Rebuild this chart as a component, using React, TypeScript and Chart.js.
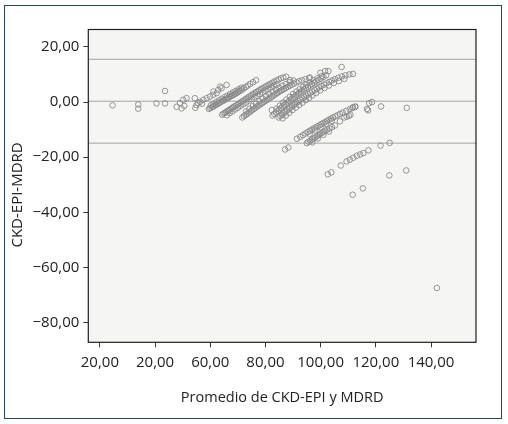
import React, { useEffect, useRef } from "react";
import { Chart, registerables } from "chart.js";

Chart.register(...registerables);

// [mean of CKD-EPI and MDRD, CKD-EPI - MDRD]
const leftScatter: [number, number][] = [
  [24.6, -1.2], [33.9, -0.9], [33.9, -2.4], [40.5, -0.5], [43.6, 4.0], [43.6, -0.5],
  [47.8, -1.7], [49.0, -0.4], [49.6, -2.3], [50.2, 0.8], [51.4, 1.4], [50.6, -1.4],
  [54.4, 1.4], [54.6, -2.1], [55.0, -1.1], [55.6, -0.4], [56.3, 0.1], [57.0, -0.6],
  [57.5, 0.8], [58.7, 1.4], [59.9, 2.0], [61.1, 2.6], [62.3, 3.2], [61.1, 3.8],
  [62.9, 4.4], [64.1, 5.0], [65.9, 6.2], [63.6, 5.6],
];

const bandA: [number, number][] = [
  [59.5, -2.5], [60.0, -2.2], [60.5, -1.9], [61.0, -1.7], [61.5, -1.3], [62.0, -1.1],
  [62.5, -0.8], [63.0, -0.5], [63.5, -0.2], [64.0, 0.1], [64.5, 0.4], [65.0, 0.6],
  [65.5, 1.0], [66.0, 1.2], [66.5, 1.5], [67.0, 1.8], [67.5, 2.1], [68.0, 2.4],
  [68.5, 2.6], [69.0, 3.0], [69.5, 3.2], [70.0, 3.6], [70.5, 3.9], [71.0, 4.2],
  [71.6, 4.6], [72.2, 5.0], [72.9, 5.5], [73.6, 6.0], [74.5, 6.6], [75.5, 7.2],
  [76.6, 7.9],
  [60.2, -1.2], [61.2, -0.6], [62.2, 0.0], [63.2, 0.6], [64.2, 1.2], [65.2, 1.8],
  [66.2, 2.3], [67.2, 2.9], [68.2, 3.5], [69.2, 4.0], [70.2, 4.6], [71.3, 5.2],
];

const bandB: [number, number][] = [
  [64.3, -4.6], [64.8, -4.2], [65.3, -3.9], [65.8, -3.6], [66.3, -3.2], [66.8, -2.9],
  [67.3, -2.6], [67.8, -2.2], [68.3, -1.9], [68.8, -1.6], [69.4, -1.2], [70.0, -0.8],
  [70.6, -0.4], [71.2, 0.0], [71.8, 0.4], [72.4, 0.8], [73.0, 1.2], [73.6, 1.6],
  [74.2, 2.0], [74.8, 2.4], [75.4, 2.8], [76.0, 3.2], [76.6, 3.6], [77.2, 3.9],
  [77.8, 4.3], [78.4, 4.7], [79.0, 5.0], [79.7, 5.4], [80.4, 5.8], [81.1, 6.2],
  [81.8, 6.6], [82.5, 7.0], [83.2, 7.4], [84.0, 7.8], [84.8, 8.2], [85.6, 8.6],
  [86.5, 8.9], [87.5, 9.2],
  [66.0, -4.8], [67.0, -4.0], [68.0, -3.4], [69.0, -2.7], [70.0, -2.1], [71.0, -1.4],
  [72.0, -0.8], [73.0, -0.2], [74.0, 0.5], [75.0, 1.1], [76.0, 1.7], [77.0, 2.3],
  [78.0, 2.9], [79.0, 3.5], [80.0, 4.1], [81.0, 4.7], [82.0, 5.3], [83.0, 5.9],
  [84.0, 6.4],
];

const bandC: [number, number][] = [
  [71.6, -5.6], [72.2, -5.1], [72.8, -4.7], [73.4, -4.3], [74.0, -3.8], [74.6, -3.4],
  [75.2, -2.9], [75.8, -2.5], [76.4, -2.1], [77.0, -1.6], [77.6, -1.2], [78.2, -0.8],
  [78.8, -0.4], [79.4, 0.0], [80.0, 0.4], [80.6, 0.8], [81.2, 1.2], [81.8, 1.6],
  [82.4, 2.0], [83.0, 2.4], [83.6, 2.8], [84.2, 3.2], [84.8, 3.6], [85.4, 4.0],
  [86.0, 4.3], [86.7, 4.7], [87.4, 5.1], [88.1, 5.5], [88.8, 5.9], [89.5, 6.3],
  [90.3, 6.7], [91.2, 7.1], [92.2, 7.5], [93.3, 7.9], [94.5, 8.3], [95.8, 8.6],
  [82.3, -2.9],
  [73.0, -3.4], [74.2, -2.4], [75.4, -1.5], [76.6, -0.6], [77.8, 0.3], [79.0, 1.2],
  [80.2, 2.1], [81.4, 2.9], [82.6, 3.7], [83.8, 4.5], [85.0, 5.2], [86.2, 5.9],
  [87.4, 6.5], [88.8, 7.2], [90.2, 7.8],
];

const bandD: [number, number][] = [
  [82.6, -4.9], [83.2, -4.3], [83.8, -3.8], [84.4, -3.2], [85.0, -2.7], [85.6, -2.2],
  [86.2, -1.6], [86.8, -1.1], [87.4, -0.6], [88.0, -0.1], [88.6, 0.4], [89.2, 0.9],
  [89.8, 1.4], [90.4, 1.9], [91.0, 2.4], [91.6, 2.8], [92.2, 3.3], [92.8, 3.7],
  [93.4, 4.2], [94.0, 4.6], [94.7, 5.1], [95.4, 5.6], [96.1, 6.0], [96.8, 6.5],
  [97.6, 7.0], [98.4, 7.5], [99.2, 8.0], [100.1, 8.5], [101.0, 9.1], [102.0, 9.7],
  [84.0, -2.4], [85.2, -1.3], [86.4, -0.2], [87.6, 0.9], [88.8, 1.9], [90.0, 2.9],
  [91.2, 3.8], [92.4, 4.7], [93.6, 5.5], [94.8, 6.3], [96.0, 7.1], [97.4, 7.9],
  [98.8, 8.6], [100.4, 9.4],
];

const bandE: [number, number][] = [
  [84.8, -5.6], [85.4, -5.1], [86.0, -4.6], [86.6, -4.1], [87.2, -3.6], [87.8, -3.1],
  [88.4, -2.6], [89.0, -2.1], [89.6, -1.6], [90.2, -1.1], [90.8, -0.7], [91.4, -0.2],
  [92.0, 0.3], [92.7, 0.8], [93.4, 1.3], [94.1, 1.8], [94.8, 2.3], [95.5, 2.8],
  [96.2, 3.3], [97.0, 3.8], [97.8, 4.3], [98.6, 4.8], [99.4, 5.3], [100.3, 5.8],
  [101.2, 6.3], [102.1, 6.8], [103.1, 7.3], [104.1, 7.8], [105.2, 8.3], [106.4, 8.8],
  [107.7, 9.3], [109.0, 9.7], [110.4, 10.0], [111.7, 10.2],
  [86.2, -5.9], [87.4, -4.9], [88.6, -3.9], [89.8, -2.9], [91.0, -2.0], [92.2, -1.1],
  [93.4, -0.2], [94.6, 0.7], [95.8, 1.5], [97.0, 2.4], [98.4, 3.3], [99.8, 4.2],
  [101.4, 5.1], [103.0, 6.0], [104.8, 6.9], [106.6, 7.6], [108.6, 8.4],
];

const upperScatter: [number, number][] = [
  [99.9, 10.6], [101.6, 11.2], [102.8, 11.2], [107.6, 12.7], [88.9, 8.0], [96.1, 8.9],
];

const bandF: [number, number][] = [
  [91.4, -13.3], [92.6, -12.6], [93.6, -12.0], [94.5, -11.4], [95.3, -10.9], [96.1, -10.4],
  [96.8, -10.0], [97.5, -9.6], [98.2, -9.2], [98.9, -8.8], [99.6, -8.4], [100.3, -8.0],
  [101.0, -7.6], [101.7, -7.2], [102.4, -6.8], [103.1, -6.4], [103.8, -6.0], [104.5, -5.6],
  [105.3, -5.2], [106.1, -4.8], [107.0, -4.3], [108.0, -3.8], [109.3, -3.2], [110.5, -2.6],
  [111.5, -2.2], [112.5, -1.8],
  [96.0, -11.5], [98.0, -10.3], [100.0, -9.1], [102.0, -7.9], [104.0, -6.8],
];

const bandG: [number, number][] = [
  [95.0, -14.9], [95.6, -14.4], [96.2, -14.0], [96.8, -13.6], [97.4, -13.2], [98.0, -12.8],
  [98.6, -12.4], [99.2, -12.0], [99.8, -11.6], [100.4, -11.2], [101.0, -10.8], [101.7, -10.4],
  [102.4, -10.0], [103.2, -9.6], [104.1, -9.1], [105.2, -8.5], [107.0, -7.0], [108.6, -5.6],
  [109.4, -5.3], [110.2, -5.0], [110.8, -4.6],
  [97.0, -14.6], [99.0, -13.2], [101.0, -11.9], [103.0, -10.7],
];

const bandH: [number, number][] = [
  [107.3, -23.0], [109.4, -21.5], [110.6, -20.9], [111.8, -20.2], [113.1, -19.5],
  [114.3, -19.0], [115.5, -18.5], [117.3, -17.5],
];

const lowerScatter: [number, number][] = [
  [87.1, -17.2], [88.3, -16.5], [102.6, -26.2], [103.9, -25.5], [111.6, -33.6], [115.3, -31.3],
  [121.7, -15.8], [125.0, -14.8], [124.9, -26.6], [131.0, -24.8], [142.1, -67.4],
  [117.6, -0.4], [118.6, 0.0], [116.8, -2.5], [117.2, -3.0], [121.9, -1.6], [131.2, -2.1],
  [111.7, -1.9], [112.6, -1.6],
];

const xTickValues = [20, 40, 60, 80, 100, 120, 140];
const xTickLabels = ["20,00", "20,00", "60,00", "80,00", "100,00", "120,00", "140,00"];
const yTickValues = [20, 0, -20, -40, -60, -80];
const yTickLabels = ["20,00", "0,00", "\u221220,00", "\u221240,00", "\u221260,00", "\u221280,00"];

const upperLimit = 15.5;
const meanDifference = 0.3;
const lowerLimit = -14.9;

const xMin = 15.8;
const xMax = 156.3;
const yMin = -87.1;
const yMax = 26.3;

const xTitle = "Promedio de CKD-EPI y MDRD";
const yTitle = "CKD-EPI-MDRD";

const FONT = "'Open Sans', 'Noto Sans', sans-serif";
const TEXT = "#222222";

const plotFrame = {
  id: "plotFrame",
  beforeDatasetsDraw(chart: any) {
    const { ctx, chartArea } = chart;
    const { left, top, right, bottom } = chartArea;
    ctx.save();
    ctx.fillStyle = "#f5f5f4";
    ctx.fillRect(left, top, right - left, bottom - top);
    ctx.restore();
  },
  afterDatasetsDraw(chart: any) {
    const { ctx, chartArea } = chart;
    const { left, top, right, bottom } = chartArea;
    ctx.save();
    ctx.strokeStyle = "#1e1e1e";
    ctx.lineWidth = 1.2;
    ctx.strokeRect(left, top, right - left, bottom - top);
    ctx.restore();
  },
  afterDraw(chart: any) {
    // y-axis title, placed slightly below the plot centre as in the reference
    const { ctx, chartArea } = chart;
    const cy = (chartArea.top + chartArea.bottom) / 2 + 9;
    ctx.save();
    ctx.translate(17.5, cy);
    ctx.rotate(-Math.PI / 2);
    ctx.fillStyle = TEXT;
    ctx.font = `15px ${FONT}`;
    ctx.textAlign = "center";
    ctx.textBaseline = "middle";
    ctx.fillText(yTitle, 0, 0);
    ctx.restore();
  },
};

export default function App() {
  const canvasRef = useRef<HTMLCanvasElement | null>(null);

  useEffect(() => {
    if (!canvasRef.current) return;
    const allPoints = [
      ...leftScatter, ...bandA, ...bandB, ...bandC, ...bandD, ...bandE,
      ...upperScatter, ...bandF, ...bandG, ...bandH, ...lowerScatter,
    ].map(([x, y]) => ({ x, y }));

    const refLine = (v: number) => ({
      type: "line" as const,
      data: [{ x: xMin, y: v }, { x: xMax, y: v }],
      borderColor: "#a3a3a3",
      borderWidth: 1,
      pointRadius: 0,
      order: 2,
    });

    const chart = new Chart(canvasRef.current, {
      type: "scatter",
      data: {
        datasets: [
          refLine(upperLimit),
          refLine(meanDifference),
          refLine(lowerLimit),
          {
            type: "scatter",
            data: allPoints,
            pointStyle: "circle",
            pointRadius: 2.8,
            borderWidth: 0.9,
            borderColor: "#8a8a8a",
            backgroundColor: "rgba(255,255,255,0)",
            order: 1,
          } as any,
        ],
      },
      options: {
        responsive: false,
        animation: false,
        events: [],
        layout: { padding: { left: 0, top: 29.5, right: 32, bottom: 11.7 } },
        plugins: {
          legend: { display: false },
          tooltip: { enabled: false },
        },
        scales: {
          x: {
            type: "linear",
            min: xMin,
            max: xMax,
            afterBuildTicks: (scale: any) => {
              scale.ticks = xTickValues.map((v) => ({ value: v }));
            },
            afterFit: (scale: any) => {
              scale.height = 70;
            },
            ticks: {
              autoSkip: false,
              maxRotation: 0,
              padding: 6,
              color: TEXT,
              font: { family: FONT, size: 15 },
              callback: (_v: any, i: number) => xTickLabels[i],
            },
            grid: {
              drawOnChartArea: false,
              drawTicks: true,
              tickLength: 5,
              tickColor: "#333",
              tickWidth: 1,
            },
            border: { display: false },
            title: {
              display: true,
              text: xTitle,
              color: TEXT,
              font: { family: FONT, size: 14.5 },
              padding: { top: 0, bottom: 5.7 },
            },
          },
          y: {
            type: "linear",
            min: yMin,
            max: yMax,
            afterBuildTicks: (scale: any) => {
              scale.ticks = yTickValues.map((v) => ({ value: v }));
            },
            afterFit: (scale: any) => {
              scale.width = 88.3;
            },
            ticks: {
              autoSkip: false,
              padding: 4,
              color: TEXT,
              font: { family: FONT, size: 15 },
              callback: (_v: any, i: number) => yTickLabels[i],
            },
            grid: {
              drawOnChartArea: false,
              drawTicks: true,
              tickLength: 5,
              tickColor: "#333",
              tickWidth: 1,
            },
            border: { display: false },
            title: { display: false, text: yTitle },
          },
        },
      },
      plugins: [plotFrame],
    });
    return () => chart.destroy();
  }, []);

  return (
    <div
      style={{
        position: "fixed",
        left: 0,
        top: 0,
        width: 508,
        height: 424,
        background: "#ffffff",
      }}
    >
      <div
        style={{
          position: "absolute",
          left: 4,
          top: 5,
          width: 498,
          height: 414,
          boxSizing: "border-box",
          border: "1.5px solid #2b4656",
        }}
      />
      <canvas
        ref={canvasRef}
        width={508}
        height={424}
        style={{ position: "absolute", left: 0, top: 0, width: 508, height: 424 }}
      />
    </div>
  );
}
